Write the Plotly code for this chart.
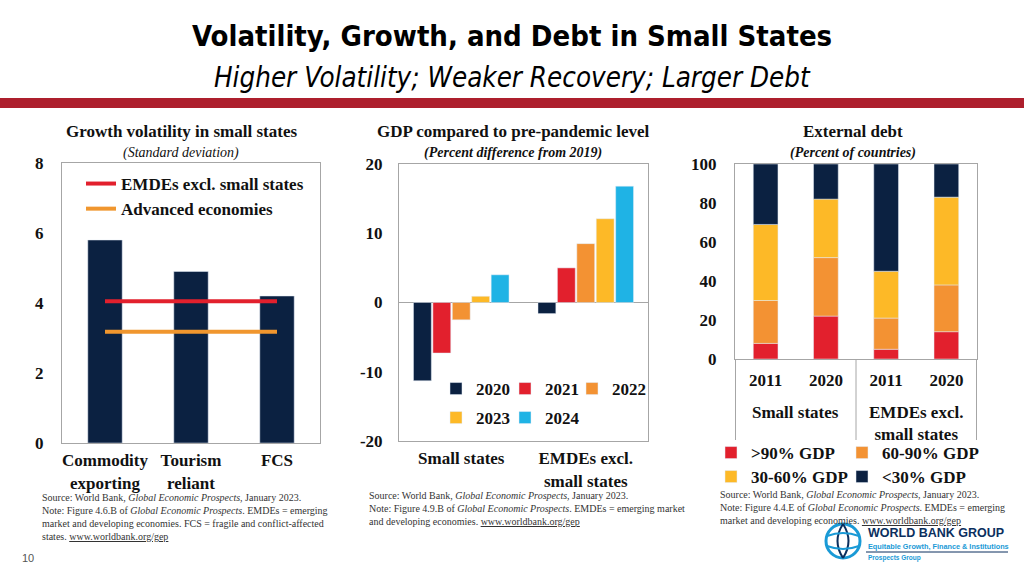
import plotly.graph_objects as go

# ---------------- Data ----------------
# Panel 1: Growth volatility in small states
vol_categories = ["Commodity<br>exporting", "Tourism<br>reliant", "FCS"]
vol_small_states = [5.8, 4.9, 4.2]
vol_emdes_excl = [4.05, 4.05, 4.05]
vol_advanced = [3.18, 3.18, 3.18]
vol_ticks = [0, 2, 4, 6, 8]

# Panel 2: GDP compared to pre-pandemic level
gdp_groups = ["Small states", "EMDEs excl.<br>small states"]
gdp_years = ["2020", "2021", "2022", "2023", "2024"]
gdp_2020 = [-11.3, -1.6]
gdp_2021 = [-7.3, 5.0]
gdp_2022 = [-2.5, 8.5]
gdp_2023 = [0.9, 12.1]
gdp_2024 = [4.0, 16.8]
gdp_tickvals = [-20, -10, 0, 10, 20]
gdp_ticktext = ["-20", "-10", "0", "10", "20"]

# Panel 3: External debt
debt_groups = ["Small states", "Small states", "EMDEs excl.<br>small states", "EMDEs excl.<br>small states"]
debt_years = ["2011", "2020", "2011", "2020"]
debt_over90 = [8, 22, 5, 14]
debt_60_90 = [22, 30, 16, 24]
debt_30_60 = [39, 30, 24, 45]
debt_under30 = [31, 18, 55, 17]
debt_names = [">90% GDP", "60-90% GDP", "30-60% GDP", "<30% GDP"]
debt_ticks = [0, 20, 40, 60, 80, 100]

# ---------------- Styles ----------------
SERIF = "Liberation Serif, Times New Roman, serif"
NARROW = "DejaVu Sans Condensed, Liberation Sans Narrow, Arial Narrow, sans-serif"
NAVY = "#0B2141"
RED = "#E2202D"
ORANGE = "#F39233"
YELLOW = "#FDB927"
BLUE = "#1FB3E5"
GRID = "#A6A6A6"

W, H = 1024, 576


def px_x(x):
    return x / W


def px_y(y):
    return 1 - y / H


fig = go.Figure()

# ---------------- Panel 1 ----------------
fig.add_trace(go.Bar(x=vol_categories, y=vol_small_states, marker_color=NAVY,
                     width=0.4, offset=-0.2, showlegend=False,
                     xaxis="x", yaxis="y"))
fig.add_trace(go.Scatter(x=vol_categories, y=vol_emdes_excl, mode="lines",
                         line=dict(color=RED, width=4),
                         name="EMDEs excl. small states", legend="legend",
                         xaxis="x", yaxis="y"))
fig.add_trace(go.Scatter(x=vol_categories, y=vol_advanced, mode="lines",
                         line=dict(color="#F0962E", width=4),
                         name="Advanced economies", legend="legend",
                         xaxis="x", yaxis="y"))

# ---------------- Panel 2 ----------------
gdp_series = [gdp_2020, gdp_2021, gdp_2022, gdp_2023, gdp_2024]
gdp_colors = [NAVY, RED, ORANGE, YELLOW, BLUE]
for i, (yr, vals, col) in enumerate(zip(gdp_years, gdp_series, gdp_colors)):
    fig.add_trace(go.Bar(x=gdp_groups, y=vals, name=yr, marker_color=col,
                         legend=f"legend{i + 2}",
                         xaxis="x2", yaxis="y2"))

# ---------------- Panel 3 ----------------
debt_keys = [f"{g}|{y}" for g, y in zip(debt_groups, debt_years)]
debt_series = [debt_over90, debt_60_90, debt_30_60, debt_under30]
debt_colors = [RED, ORANGE, YELLOW, NAVY]
base = [0, 0, 0, 0]
for i, (vals, nm, col) in enumerate(zip(debt_series, debt_names, debt_colors)):
    fig.add_trace(go.Bar(x=debt_keys, y=vals, base=list(base),
                         name=nm, marker_color=col, offsetgroup="debt",
                         width=0.41, offset=-0.205,
                         legend=f"legend{i + 7}",
                         xaxis="x3", yaxis="y3"))
    base = [b + v for b, v in zip(base, vals)]

tickfont = dict(family=SERIF, size=17, color="#111", weight="bold")
axis_common = dict(showline=True, linecolor=GRID, linewidth=1, mirror=True,
                   showgrid=False, zeroline=False, ticks="", tickfont=tickfont,
                   fixedrange=True, automargin=False)

fig.update_layout(
    width=W, height=H,
    margin=dict(l=0, r=0, t=0, b=0, pad=0, autoexpand=False),
    paper_bgcolor="white", plot_bgcolor="white",
    barmode="group", bargap=0.22, bargroupgap=0.08,
    xaxis=dict(domain=[px_x(62), px_x(320)], anchor="y", ticklabelstandoff=2,
               **axis_common),
    yaxis=dict(domain=[px_y(443), px_y(163)], anchor="x", range=[0, 8],
               tickvals=vol_ticks, ticklabelstandoff=14, **axis_common),
    xaxis2=dict(domain=[px_x(399), px_x(648)], anchor="y2", ticklabelstandoff=2,
                **axis_common),
    yaxis2=dict(domain=[px_y(441), px_y(164)], anchor="x2", range=[-20, 20],
                tickvals=gdp_tickvals, ticktext=gdp_ticktext, ticklabelstandoff=12,
                **{**axis_common, "zeroline": True}, zerolinecolor=GRID, zerolinewidth=1),
    xaxis3=dict(domain=[px_x(735), px_x(977)], anchor="y3", tickvals=debt_keys,
                ticktext=debt_years, ticklabelstandoff=6, **axis_common),
    yaxis3=dict(domain=[px_y(359), px_y(164)], anchor="x3", range=[0, 100],
                tickvals=debt_ticks, ticklabelstandoff=14, **axis_common),
    legend=dict(x=px_x(81), y=px_y(166), xanchor="left", yanchor="top",
                bgcolor="rgba(0,0,0,0)", tracegroupgap=0,
                font=dict(family=SERIF, size=17, color="#111", weight="bold")),
)

# one legend per item for panels 2 and 3 (positions of the reference layout)
leg_font = dict(family=SERIF, size=17, color="#111", weight="bold")
gdp_leg_pos = [(436, 371), (505, 371), (572, 371), (436, 400), (505, 400)]
for i, (lx, ly) in enumerate(gdp_leg_pos):
    fig.update_layout({f"legend{i + 2}": dict(x=px_x(lx), y=px_y(ly), xanchor="left",
                                              yanchor="top", bgcolor="rgba(0,0,0,0)",
                                              font=leg_font)})
debt_leg_pos = [(711, 435), (842, 435), (711, 459), (842, 459)]
for i, (lx, ly) in enumerate(debt_leg_pos):
    fig.update_layout({f"legend{i + 7}": dict(x=px_x(lx), y=px_y(ly), xanchor="left",
                                              yanchor="top", bgcolor="rgba(0,0,0,0)",
                                              font=leg_font)})

annotations = []


def add_text(x, y, text, size, family=SERIF, weight="normal", style="normal",
             color="#111", xanchor="center", yanchor="middle", align="center"):
    annotations.append(dict(x=px_x(x), y=px_y(y), xref="paper", yref="paper",
                            text=text, showarrow=False, xanchor=xanchor,
                            yanchor=yanchor, align=align,
                            font=dict(family=family, size=size, weight=weight,
                                      style=style, color=color)))


# Main titles
add_text(512, 36, "Volatility, Growth, and Debt in Small States", 29, family=NARROW,
         weight="bold", color="#000")
add_text(512, 77, "Higher Volatility; Weaker Recovery; Larger Debt", 27.5, family=NARROW,
         style="italic", color="#000")

# Panel titles
add_text(181, 131, "Growth volatility in small states", 17, weight="bold")
add_text(181, 153, "(Standard deviation)", 14, style="italic")
add_text(513, 131, "GDP compared to pre-pandemic level", 17, weight="bold")
add_text(513, 153, "(Percent difference from 2019)", 14, style="italic", weight="bold")
add_text(853, 131, "External debt", 17, weight="bold")
add_text(853, 153, "(Percent of countries)", 14, style="italic", weight="bold")

# Panel 3 group labels (centred under each group of bars) and dividers
unique_groups = list(dict.fromkeys(debt_groups))
for g in unique_groups:
    idx = [i for i, gg in enumerate(debt_groups) if gg == g]
    annotations.append(dict(x=sum(idx) / len(idx), y=px_y(401), xref="x3", yref="paper",
                            text=g, showarrow=False, xanchor="center", yanchor="top",
                            align="center", font=tickfont))
divider_pos = [-0.5]
for i in range(1, len(debt_groups)):
    if debt_groups[i] != debt_groups[i - 1]:
        divider_pos.append(i - 0.5)
divider_pos.append(len(debt_groups) - 0.5)

# Sources
SRC = "#333"
add_text(40, 490,
         "Source: World Bank, <i>Global Economic Prospects</i>, January 2023.<br>"
         "Note: Figure 4.6.B of <i>Global Economic Prospects</i>. EMDEs = emerging<br>"
         "market and developing economies. FCS = fragile and conflict-affected<br>"
         "states. <u>www.worldbank.org/gep</u>",
         10, color=SRC, xanchor="left", yanchor="top", align="left")
add_text(367, 488,
         "Source: World Bank, <i>Global Economic Prospects</i>, January 2023.<br>"
         "Note: Figure 4.9.B of <i>Global Economic Prospects</i>. EMDEs = emerging market<br>"
         "and developing economies. <u>www.worldbank.org/gep</u>",
         10, color=SRC, xanchor="left", yanchor="top", align="left")
add_text(718, 487,
         "Source: World Bank, <i>Global Economic Prospects</i>, January 2023.<br>"
         "Note: Figure 4.4.E of <i>Global Economic Prospects</i>. EMDEs = emerging<br>"
         "market and developing economies. <u>www.worldbank.org/gep</u>",
         10, color=SRC, xanchor="left", yanchor="top", align="left")

# Page number
add_text(20, 558, "10", 11, family="Liberation Sans, Arial, sans-serif", color="#555",
         xanchor="left")

# Logo text
LOGO = "Liberation Sans, Arial, sans-serif"
add_text(866, 533, "WORLD BANK GROUP", 12.5, family=LOGO, weight="bold", color="#0B2F5E",
         xanchor="left")
add_text(866, 546, "Equitable Growth, Finance &amp; Institutions", 7.3, family=LOGO,
         weight="bold", color="#1A9AD6", xanchor="left")
add_text(866, 558, "Prospects Group", 6.5, family=LOGO, weight="bold", color="#1A9AD6",
         xanchor="left")

fig.update_layout(annotations=annotations)

shapes = [
    # red band
    dict(type="rect", xref="paper", yref="paper", x0=0, x1=1,
         y0=px_y(108), y1=px_y(98), fillcolor="#AD1F2D", line=dict(width=0), layer="below"),
    # logo underline
    dict(type="line", xref="paper", yref="paper", x0=px_x(866), x1=px_x(1008),
         y0=px_y(552), y1=px_y(552), line=dict(color="#0B2F5E", width=1)),
    # logo globe
    dict(type="circle", xref="paper", yref="paper", x0=px_x(826), x1=px_x(860),
         y0=px_y(558), y1=px_y(524), line=dict(color="#1A9AD6", width=3)),
    dict(type="path", xref="paper", yref="paper",
         path=f"M {px_x(843)},{px_y(524)} Q {px_x(832)},{px_y(541)} {px_x(843)},{px_y(558)}",
         line=dict(color="#0B2F5E", width=2)),
    dict(type="path", xref="paper", yref="paper",
         path=f"M {px_x(843)},{px_y(524)} Q {px_x(854)},{px_y(541)} {px_x(843)},{px_y(558)}",
         line=dict(color="#0B2F5E", width=2)),
    dict(type="path", xref="paper", yref="paper",
         path=f"M {px_x(827)},{px_y(536)} Q {px_x(843)},{px_y(530)} {px_x(859)},{px_y(536)}",
         line=dict(color="#1A9AD6", width=2)),
    dict(type="path", xref="paper", yref="paper",
         path=f"M {px_x(827)},{px_y(546)} Q {px_x(843)},{px_y(552)} {px_x(859)},{px_y(546)}",
         line=dict(color="#1A9AD6", width=2)),
]
for dx in divider_pos:
    shapes.append(dict(type="line", xref="x3", yref="paper", x0=dx, x1=dx,
                       y0=px_y(440), y1=px_y(359), line=dict(color=GRID, width=1)))
fig.update_layout(shapes=shapes)

fig.write_html("out.html", config={"displayModeBar": False},
               post_script="document.body.style.margin='0';document.body.style.overflow='hidden';")
